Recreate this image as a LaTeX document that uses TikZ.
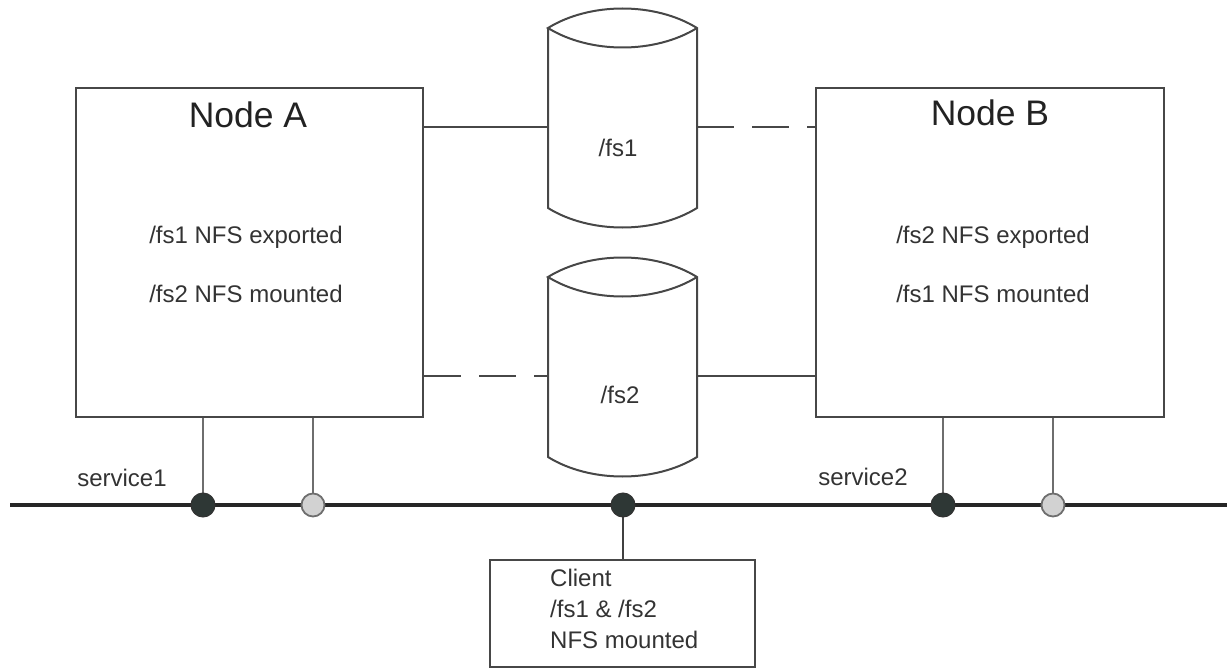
\documentclass[tikz,border=0pt]{standalone}
\usepackage{fontspec}
\setmainfont{Liberation Sans}
\definecolor{edge}{HTML}{474747}
\definecolor{txt}{HTML}{333333}
\definecolor{title}{HTML}{222222}
\definecolor{darkdot}{HTML}{2E3735}
\definecolor{lightdot}{HTML}{D2D2D2}
\definecolor{stub}{HTML}{6E6E6E}
\tikzset{
  hostbox/.style={draw=edge, line width=2.4pt, minimum width=#1, inner sep=0pt},
  invisible/.style={inner sep=0pt, outer sep=0pt},
  cyl/.style={draw=edge, line width=2pt, line join=miter},
  link/.style={draw=edge, line width=2.2pt},
  dashlink/.style={draw=edge, line width=2.2pt, dash pattern=on 37pt off 18pt},
  bus/.style={draw=black!85, line width=3.6pt},
  stubline/.style={draw=stub, line width=2.2pt},
  cliline/.style={draw=black!75, line width=2.2pt},
  darkport/.style={circle, fill=darkdot, draw=black!80, line width=1pt, minimum size=24pt, inner sep=0pt},
  lightport/.style={circle, fill=lightdot, draw=stub, line width=1.8pt, minimum size=23pt, inner sep=0pt},
  small/.style={text=txt, font=\fontsize{24}{31}\selectfont, inner sep=0pt},
  big/.style={text=title, font=\fontsize{35.5}{40}\selectfont, inner sep=0pt},
}
\begin{document}
\begin{tikzpicture}[x=1pt, y=-1pt]
\useasboundingbox (0,0) rectangle (1227,669);

% cluster nodes
\node[hostbox=347pt, minimum height=329pt] (A) at (249.5,252.5) {};
\node[hostbox=348pt, minimum height=329pt] (B) at (990,252.5) {};

\node[big, anchor=base] (Atitle) at (248,127) {Node A};
\node[small, anchor=base] (Aexp) at (246,243) {/fs1 NFS exported};
\node[small, anchor=base] (Amnt) at (246,302) {/fs2 NFS mounted};

\node[big, anchor=base] (Btitle) at (990,125) {Node B};
\node[small, anchor=base] (Bexp) at (993,243) {/fs2 NFS exported};
\node[small, anchor=base] (Bmnt) at (993,302) {/fs1 NFS mounted};

% shared disks: body between the rim corners, lens-shaped lid, curved base
\node[invisible, minimum width=149pt, minimum height=180pt] (fs1) at (622.5,118) {};
\node[invisible, minimum width=149pt, minimum height=180pt] (fs2) at (622.5,367) {};
\foreach \d in {fs1,fs2}{
  \draw[cyl] (\d.north west) -- (\d.south west)
    .. controls +(42,26) and +(-42,26) .. (\d.south east)
    -- (\d.north east)
    .. controls +(-42,-26) and +(42,-26) .. (\d.north west)
    .. controls +(42,26) and +(-42,26) .. (\d.north east);
}
\node[small, anchor=base] (fs1lbl) at (618,156) {/fs1};
\node[small, anchor=base] (fs2lbl) at (620,403) {/fs2};

% disk attachments
\coordinate (row1) at (0,127);
\coordinate (row2) at (0,376);
\draw[link] (A.east |- row1) -- (fs1.west |- row1);
\draw[dashlink] (fs1.east |- row1) -- (B.west |- row1);
\draw[dashlink] (A.east |- row2) -- (fs2.west |- row2);
\draw[link] (fs2.east |- row2) -- (B.west |- row2);

% network
\coordinate (busL) at (10,505);
\coordinate (busR) at (1227,505);
\draw[bus] (busL) -- (busR);

\coordinate (pA1) at (203,505);
\coordinate (pA2) at (313,505);
\coordinate (pC) at (623,505);
\coordinate (pB1) at (943,505);
\coordinate (pB2) at (1053,505);

\draw[stubline] (A.south -| pA1) -- (pA1);
\draw[stubline] (A.south -| pA2) -- (pA2);
\draw[stubline] (B.south -| pB1) -- (pB1);
\draw[stubline] (B.south -| pB2) -- (pB2);

\node[darkport] (dA1) at (pA1) {};
\node[lightport] (dA2) at (pA2) {};
\node[darkport] (dB1) at (pB1) {};
\node[lightport] (dB2) at (pB2) {};

\node[small, anchor=base] (svc1) at (122,486) {service1};
\node[small, anchor=base] (svc2) at (863,485) {service2};

% client
\node[hostbox=265pt, minimum height=107pt] (C) at (622.5,613.5) {};
\draw[cliline] (pC) -- (C.north -| pC);
\node[darkport] (dC) at (pC) {};
\node[small, anchor=north west, align=left] (Ctext) at (550,569) {Client\\/fs1 \& /fs2\\NFS mounted};
\end{tikzpicture}
\end{document}
